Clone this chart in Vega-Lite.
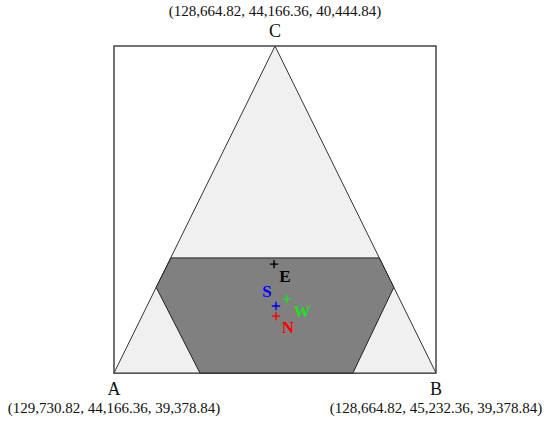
{
  "$schema": "https://vega.github.io/schema/vega-lite/v6.json",
  "width": 550,
  "height": 424,
  "autosize": {"type": "fit", "contains": "padding"},
  "padding": 0,
  "background": "white",
  "config": {"view": {"stroke": null}},
  "datasets": {
    "box": [{"x": 0, "y": 0, "x2": 1, "y2": 1}],
    "tri": [
      {"o": 1, "x": 0, "y": 0},
      {"o": 2, "x": 0.5, "y": 1},
      {"o": 3, "x": 1, "y": 0},
      {"o": 4, "x": 0, "y": 0}
    ],
    "hex": [
      {"o": 1, "x": 0.177, "y": 0.352},
      {"o": 2, "x": 0.824, "y": 0.352},
      {"o": 3, "x": 0.869, "y": 0.262},
      {"o": 4, "x": 0.742, "y": 0},
      {"o": 5, "x": 0.267, "y": 0},
      {"o": 6, "x": 0.131, "y": 0.262},
      {"o": 7, "x": 0.177, "y": 0.352}
    ],
    "pts": [
      {"name": "E", "x": 0.497, "y": 0.333, "lx": 0.531, "ly": 0.294},
      {"name": "S", "x": 0.503, "y": 0.205, "lx": 0.475, "ly": 0.248},
      {"name": "W", "x": 0.537, "y": 0.226, "lx": 0.584, "ly": 0.187},
      {"name": "N", "x": 0.503, "y": 0.174, "lx": 0.540, "ly": 0.138}
    ],
    "letters": [
      {"t": "C", "x": 0.5, "y": 1.043},
      {"t": "A", "x": 0.0, "y": -0.052},
      {"t": "B", "x": 1.0, "y": -0.052}
    ],
    "coords": [
      {"t": "(128,664.82, 44,166.36, 40,444.84)", "x": 0.5, "y": 1.107},
      {"t": "(129,730.82, 44,166.36, 39,378.84)", "x": 0.0, "y": -0.107},
      {"t": "(128,664.82, 45,232.36, 39,378.84)", "x": 1.0, "y": -0.107}
    ]
  },
  "layer": [
    {
      "data": {"name": "box"},
      "mark": {"type": "rect", "fill": "white", "stroke": "#444", "strokeWidth": 1.5},
      "encoding": {
        "x": {"field": "x", "type": "quantitative", "scale": {"domain": [-0.354, 1.354], "nice": false, "zero": false}, "axis": null},
        "x2": {"field": "x2"},
        "y": {"field": "y", "type": "quantitative", "scale": {"domain": [-0.156, 1.141], "nice": false, "zero": false}, "axis": null},
        "y2": {"field": "y2"}
      }
    },
    {
      "data": {"name": "tri"},
      "mark": {"type": "line", "fill": "#f0f0f0", "stroke": "#333", "strokeWidth": 1},
      "encoding": {
        "x": {"field": "x", "type": "quantitative"},
        "y": {"field": "y", "type": "quantitative"},
        "order": {"field": "o", "type": "quantitative"}
      }
    },
    {
      "data": {"name": "hex"},
      "mark": {"type": "line", "fill": "#808080", "stroke": "#222", "strokeWidth": 1},
      "encoding": {
        "x": {"field": "x", "type": "quantitative"},
        "y": {"field": "y", "type": "quantitative"},
        "order": {"field": "o", "type": "quantitative"}
      }
    },
    {
      "data": {"name": "pts"},
      "mark": {"type": "point", "shape": "M-1,0L1,0M0,-1L0,1", "filled": false, "size": 70, "strokeWidth": 1.4, "opacity": 1},
      "encoding": {
        "x": {"field": "x", "type": "quantitative"},
        "y": {"field": "y", "type": "quantitative"},
        "color": {"field": "name", "type": "nominal", "scale": {"domain": ["E", "S", "W", "N"], "range": ["#000000", "#0000ff", "#22dd22", "#ff0000"]}, "legend": null}
      }
    },
    {
      "data": {"name": "pts"},
      "mark": {"type": "point", "shape": "circle", "filled": true, "size": 8, "opacity": 1},
      "encoding": {
        "x": {"field": "x", "type": "quantitative"},
        "y": {"field": "y", "type": "quantitative"},
        "color": {"field": "name", "type": "nominal", "legend": null}
      }
    },
    {
      "data": {"name": "pts"},
      "mark": {"type": "text", "font": "Liberation Serif", "fontSize": 17, "fontWeight": "bold", "align": "center", "baseline": "middle"},
      "encoding": {
        "x": {"field": "lx", "type": "quantitative"},
        "y": {"field": "ly", "type": "quantitative"},
        "text": {"field": "name"},
        "color": {"field": "name", "type": "nominal", "legend": null}
      }
    },
    {
      "data": {"name": "letters"},
      "mark": {"type": "text", "font": "Liberation Serif", "fontSize": 18, "align": "center", "baseline": "middle", "color": "#111"},
      "encoding": {
        "x": {"field": "x", "type": "quantitative"},
        "y": {"field": "y", "type": "quantitative"},
        "text": {"field": "t"}
      }
    },
    {
      "data": {"name": "coords"},
      "mark": {"type": "text", "font": "Liberation Serif", "fontSize": 15, "align": "center", "baseline": "middle", "color": "#111"},
      "encoding": {
        "x": {"field": "x", "type": "quantitative"},
        "y": {"field": "y", "type": "quantitative"},
        "text": {"field": "t"}
      }
    }
  ]
}
